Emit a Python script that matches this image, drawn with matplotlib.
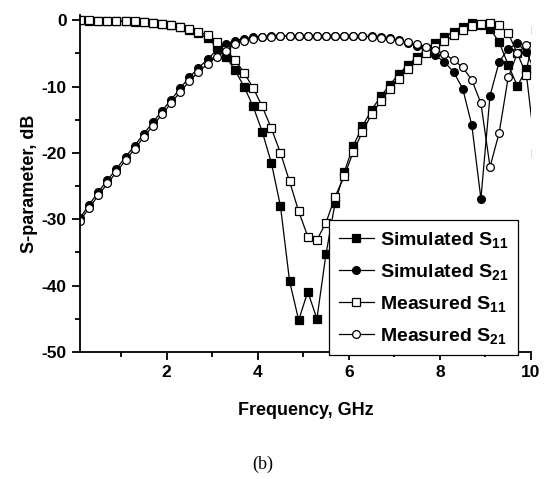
import numpy as np
import matplotlib
matplotlib.use("Agg")
import matplotlib.pyplot as plt

plt.rcParams['font.family'] = ['Liberation Sans', 'DejaVu Sans']
plt.rcParams['font.weight'] = 'bold'
plt.rcParams['mathtext.fontset'] = 'custom'
plt.rcParams['mathtext.bf'] = 'Liberation Sans:bold'
plt.rcParams['mathtext.rm'] = 'Liberation Sans:bold'
plt.rcParams['mathtext.default'] = 'bf'
plt.rcParams['axes.unicode_minus'] = False

freq = [0.1, 0.3, 0.5, 0.7, 0.9, 1.1, 1.3, 1.5, 1.7, 1.9,
        2.1, 2.3, 2.5, 2.7, 2.9, 3.1, 3.3, 3.5, 3.7, 3.9,
        4.1, 4.3, 4.5, 4.7, 4.9, 5.1, 5.3, 5.5, 5.7, 5.9,
        6.1, 6.3, 6.5, 6.7, 6.9, 7.1, 7.3, 7.5, 7.7, 7.9,
        8.1, 8.3, 8.5, 8.7, 8.9, 9.1, 9.3, 9.5, 9.7, 9.9, 10.1]

sim_s11 = [-0.05, -0.06, -0.08, -0.10, -0.13, -0.17, -0.22, -0.30, -0.40, -0.55,
           -0.75, -1.05, -1.45, -1.95, -2.75, -4.0, -5.5, -7.5, -10.0, -13.0,
           -16.8, -21.5, -28.0, -39.3, -45.2, -40.9, -45.0, -35.2, -27.5, -22.9,
           -18.9, -16.0, -13.5, -11.5, -9.75, -8.1, -6.75, -5.5, -4.35, -3.5,
           -2.6, -1.75, -1.0, -0.5, -0.75, -1.3, -3.3, -6.75, -9.9, -7.4, -1.5]

sim_s21 = [-29.8, -27.8, -25.9, -24.1, -22.4, -20.6, -18.9, -17.1, -15.4, -13.65,
           -12.0, -10.25, -8.6, -7.2, -5.9, -4.5, -3.6, -3.1, -2.8, -2.6,
           -2.5, -2.45, -2.4, -2.4, -2.4, -2.4, -2.4, -2.4, -2.4, -2.4,
           -2.4, -2.4, -2.45, -2.55, -2.75, -3.05, -3.45, -3.95, -4.55, -5.3,
           -6.3, -7.8, -10.3, -15.8, -26.9, -11.4, -6.3, -4.3, -3.5, -4.8, -8.0]

meas_s11 = [-0.04, -0.05, -0.07, -0.09, -0.12, -0.15, -0.20, -0.28, -0.38, -0.52,
            -0.7, -0.98, -1.35, -1.75, -2.25, -3.25, -4.5, -6.0, -7.9, -10.2,
            -13.0, -16.3, -20.0, -24.3, -28.8, -32.6, -33.1, -30.5, -26.6, -23.5,
            -19.8, -16.8, -14.2, -12.2, -10.4, -8.8, -7.3, -6.0, -5.0, -4.1,
            -3.2, -2.3, -1.5, -0.9, -0.6, -0.4, -0.75, -2.0, -5.0, -8.25, -20.0]

meas_s21 = [-30.2, -28.3, -26.4, -24.6, -22.9, -21.1, -19.4, -17.6, -15.9, -14.2,
            -12.5, -10.8, -9.2, -7.8, -6.6, -5.5, -4.6, -3.6, -3.1, -2.8,
            -2.6, -2.5, -2.4, -2.4, -2.4, -2.4, -2.4, -2.4, -2.4, -2.4,
            -2.4, -2.45, -2.55, -2.7, -2.9, -3.1, -3.35, -3.65, -4.0, -4.5,
            -5.1, -6.0, -7.1, -9.0, -12.5, -22.1, -17.0, -8.6, -5.0, -3.75, -3.0]

labels = [r'Simulated S$_{11}$', r'Simulated S$_{21}$',
          r'Measured S$_{11}$', r'Measured S$_{21}$']

fig = plt.figure(figsize=(5.48, 4.79), dpi=100)
ax = fig.add_axes([0.146, 0.265, 0.823, 0.704])

kw = dict(color='black', lw=0.9, ms=5.6, markeredgewidth=0.9)
ax.plot(freq, sim_s11, marker='s', mfc='black', label=labels[0], **kw)
ax.plot(freq, sim_s21, marker='o', mfc='black', label=labels[1], **kw)
ax.plot(freq, meas_s11, marker='s', mfc='white', label=labels[2], **kw)
ax.plot(freq, meas_s21, marker='o', mfc='white', label=labels[3], **kw)

ax.set_xlim(0.1, 10)
ax.set_ylim(-50, 0.8)
ax.set_xticks([2, 4, 6, 8, 10])
ax.set_xticks([1, 3, 5, 7, 9], minor=True)
ax.set_yticks([0, -10, -20, -30, -40, -50])
ax.set_yticks([-5, -15, -25, -35, -45], minor=True)
ax.spines['top'].set_visible(False)
ax.spines['right'].set_visible(False)
for s in ['left', 'bottom']:
    ax.spines[s].set_linewidth(1.3)
ax.tick_params(which='major', direction='out', length=6, width=1.3, labelsize=12.5)
ax.tick_params(which='minor', direction='out', length=3.5, width=1.3)

ax.set_xlabel('Frequency, GHz', fontsize=13, fontweight='bold', labelpad=16)
ax.set_ylabel('S-parameter, dB', fontsize=13, fontweight='bold', labelpad=3)

leg = ax.legend(loc='lower right', bbox_to_anchor=(0.971, -0.01), borderaxespad=0,
                fontsize=14, handlelength=1.8, handletextpad=0.3, labelspacing=0.62,
                borderpad=0.5, fancybox=False, framealpha=1, edgecolor='black')
leg.get_frame().set_linewidth(0.9)

fig.text(0.48, 0.02, '(b)', fontsize=13, family='Liberation Serif',
         fontweight='normal', ha='center')

fig.savefig('out.png', dpi=100)
